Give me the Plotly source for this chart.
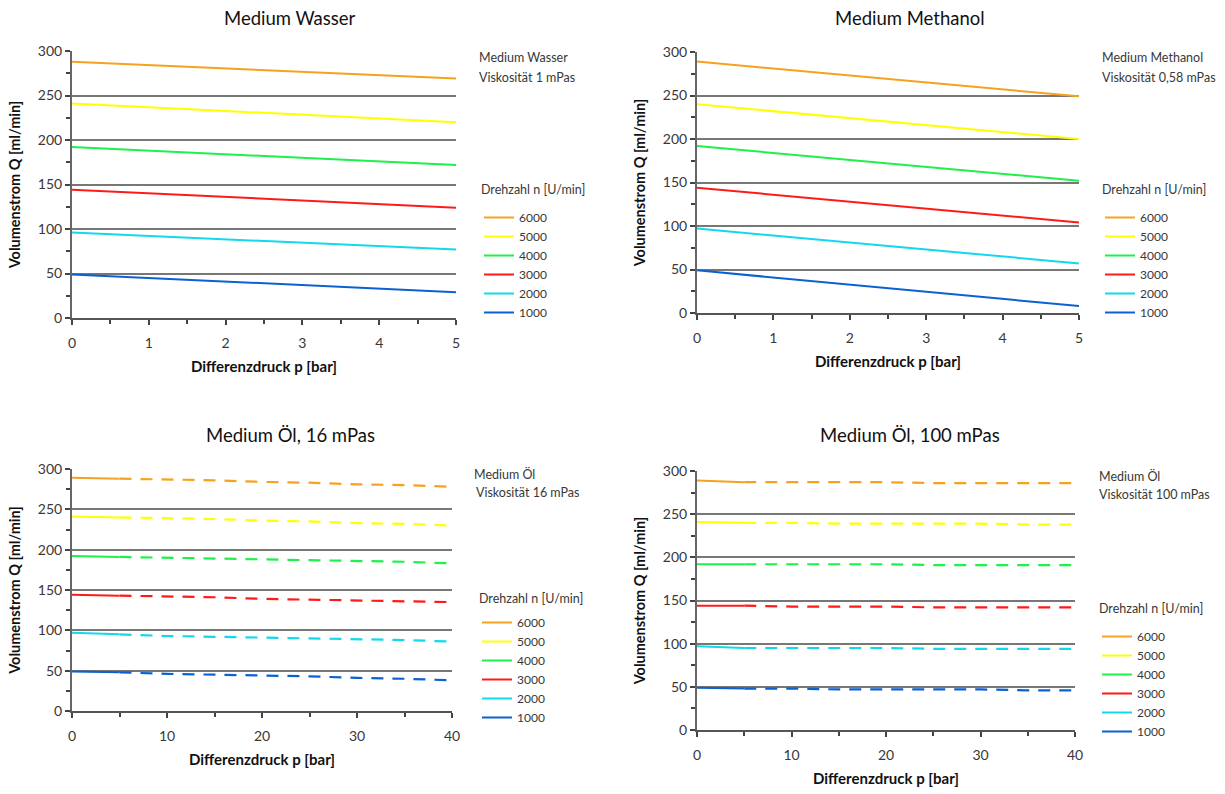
import plotly.graph_objects as go

# ---------------- data ----------------
speeds = ["6000", "5000", "4000", "3000", "2000", "1000"]
colors = ["#F7A21E", "#FFFF00", "#1FF04A", "#FF1A1A", "#12D8EE", "#0A62D0"]

# Medium Wasser (0..5 bar)
wasser_p = [0, 5]
wasser_q = [[288, 269], [241, 220], [192, 172], [144, 124], [96, 77], [49, 29]]

# Medium Methanol (0..5 bar)
methanol_p = [0, 5]
methanol_q = [[289, 249], [240, 200], [192, 152], [144, 104], [97, 57], [49, 8]]

# Medium Öl 16 mPas (0..40 bar); first segment measured (solid), rest dashed
oel16_p = [0, 5, 10, 15, 20, 25, 30, 35, 40]
oel16_q = [
    [289, 288, 287, 286, 284, 283, 281, 280, 278],
    [241, 240, 239, 238, 236, 235, 233, 232, 230],
    [192, 191, 190, 189, 188, 187, 186, 185, 183],
    [144, 143, 142, 141, 139, 138, 137, 136, 135],
    [97, 95, 93, 92, 91, 90, 89, 88, 86],
    [49, 48, 46, 45, 44, 43, 41, 40, 38],
]

# Medium Öl 100 mPas (0..40 bar)
oel100_p = [0, 5, 10, 15, 20, 25, 30, 35, 40]
oel100_q = [
    [289, 287, 287, 287, 287, 286, 286, 286, 286],
    [241, 240, 240, 239, 239, 239, 239, 238, 238],
    [192, 192, 192, 192, 192, 191, 191, 191, 191],
    [144, 144, 143, 143, 143, 142, 142, 142, 142],
    [97, 95, 95, 95, 95, 94, 94, 94, 94],
    [49, 48, 48, 47, 47, 47, 47, 46, 46],
]

titles = ["Medium Wasser", "Medium Methanol", "Medium Öl, 16 mPas", "Medium Öl, 100 mPas"]
info1 = ["Medium Wasser", "Medium Methanol", "Medium Öl", "Medium Öl"]
info2 = ["Viskosität 1 mPas", "Viskosität 0,58 mPas", "Viskosität 16 mPas", "Viskosität 100 mPas"]
legend_title = "Drehzahl n [U/min]"
x_title = "Differenzdruck p [bar]"
y_title = "Volumenstrom Q [ml/min]"

# ---------------- layout geometry (pixels) ----------------
W, H = 1225, 794
FONT = "Lato, Open Sans, sans-serif"
TXT = "#383838"


def px(x):
    return x / W


def py(y):
    return 1 - y / H


# plot boxes: (left, right, top, bottom) in px
boxes = [(72, 456, 51, 318), (697, 1079, 52, 313), (72, 452, 469, 711), (697, 1075, 471, 730)]
title_pos = [(290, 18), (910, 18), (290, 435), (910, 435)]
info_pos = [(477, 477, 57, 78), (1100, 1100, 57, 77), (472, 474, 474, 492), (1097, 1097, 476, 494)]
legtitle_pos = [(479, 190), (1100, 190), (477, 598), (1097, 608)]
legend_pos = [(479, 203), (1100, 203), (477, 608), (1097, 622)]

fig = go.Figure()

panels = [
    (wasser_p, wasser_q, False),
    (methanol_p, methanol_q, False),
    (oel16_p, oel16_q, True),
    (oel100_p, oel100_q, True),
]

for i, (pp, qq, dashed) in enumerate(panels):
    ax = "" if i == 0 else str(i + 1)
    leg = "legend" if i == 0 else "legend" + str(i + 1)
    for s, name in enumerate(speeds):
        grp = f"g{i}_{s}"
        if dashed:
            fig.add_trace(go.Scatter(
                x=pp[:2], y=qq[s][:2], mode="lines", name=name,
                line=dict(color=colors[s], width=2),
                xaxis="x" + ax, yaxis="y" + ax, legend=leg, legendgroup=grp,
                showlegend=True))
            fig.add_trace(go.Scatter(
                x=pp[1:], y=qq[s][1:], mode="lines", name=name,
                line=dict(color=colors[s], width=2.2, dash="12px,9px"),
                xaxis="x" + ax, yaxis="y" + ax, legend=leg, legendgroup=grp,
                showlegend=False))
        else:
            fig.add_trace(go.Scatter(
                x=pp, y=qq[s], mode="lines", name=name,
                line=dict(color=colors[s], width=2),
                xaxis="x" + ax, yaxis="y" + ax, legend=leg, legendgroup=grp))

layout = dict(
    width=W, height=H,
    margin=dict(l=0, r=0, t=0, b=0, autoexpand=False),
    paper_bgcolor="white", plot_bgcolor="white",
    font=dict(family=FONT, color=TXT, size=14),
    showlegend=True,
    annotations=[],
)

for i in range(4):
    l, r, t, b = boxes[i]
    ax = "" if i == 0 else str(i + 1)
    xmax = 5 if i < 2 else 40
    layout["xaxis" + ax] = dict(
        domain=[px(l), px(r)], anchor="y" + ax, range=[0, xmax],
        tickmode="linear", tick0=0, dtick=1 if i < 2 else 10,
        ticks="outside", ticklen=5, tickcolor="#444", tickwidth=1.5,
        minor=dict(dtick=0.5 if i < 2 else 5, ticks="outside", ticklen=4, tickcolor="#444", tickwidth=1.5),
        showline=True, linecolor="#555", linewidth=2,
        showgrid=False, zeroline=False, automargin=False,
        ticklabelstandoff=6,
        tickfont=dict(size=14, color=TXT),
        title=dict(text="<b>" + x_title + "</b>", font=dict(size=15, color="#111"), standoff=12),
    )
    layout["yaxis" + ax] = dict(
        domain=[py(b), py(t)], anchor="x" + ax, range=[0, 300],
        tickmode="linear", tick0=0, dtick=50,
        ticks="outside", ticklen=5, tickcolor="#444", tickwidth=1.5,
        minor=dict(dtick=25, ticks="outside", ticklen=4, tickcolor="#444", tickwidth=1.5, showgrid=False),
        showline=True, linecolor="#666", linewidth=2,
        showgrid=True, gridcolor="#777777", gridwidth=1.5,
        zeroline=False, automargin=False,
        tickfont=dict(size=14, color=TXT),
        title=dict(text="<b>" + y_title + "</b>", font=dict(size=14.5, color="#111"), standoff=14),
    )
    leg = "legend" if i == 0 else "legend" + str(i + 1)
    lx, ly = legend_pos[i]
    layout[leg] = dict(
        x=px(lx), y=py(ly), xanchor="left", yanchor="top",
        font=dict(size=12, color=TXT),
        bgcolor="rgba(0,0,0,0)", borderwidth=0,
        itemwidth=30, tracegroupgap=0,
        traceorder="grouped",
    )
    tx, ty = title_pos[i]
    layout["annotations"].append(dict(
        text=titles[i], x=px(tx), y=py(ty), xref="paper", yref="paper",
        xanchor="center", yanchor="middle", showarrow=False,
        font=dict(size=18.5, color="#111")))
    ix1, ix2, iy1, iy2 = info_pos[i]
    layout["annotations"].append(dict(
        text=info1[i], x=px(ix1), y=py(iy1), xref="paper", yref="paper",
        xanchor="left", yanchor="middle", showarrow=False, font=dict(size=12.5, color=TXT)))
    layout["annotations"].append(dict(
        text=info2[i], x=px(ix2), y=py(iy2), xref="paper", yref="paper",
        xanchor="left", yanchor="middle", showarrow=False, font=dict(size=12.5, color=TXT)))
    gx, gy = legtitle_pos[i]
    layout["annotations"].append(dict(
        text=legend_title, x=px(gx), y=py(gy), xref="paper", yref="paper",
        xanchor="left", yanchor="middle", showarrow=False, font=dict(size=12.5, color=TXT)))

fig.update_layout(**layout)
fig.write_html("out.html", post_script="document.body.style.margin='0';",
               config={"displayModeBar": False})
